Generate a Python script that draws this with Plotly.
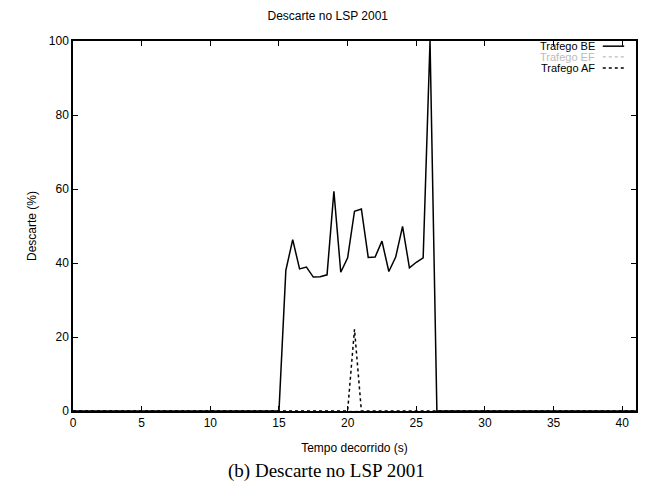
import plotly.graph_objects as go

# Data (time in s, discard in %)
tempo_be = [0, 15, 15.5, 16, 16.5, 17, 17.5, 18, 18.5, 19, 19.5, 20, 20.5, 21,
            21.5, 22, 22.5, 23, 23.5, 24, 24.5, 25, 25.5, 26, 26.5, 41]
descarte_be = [0, 0, 38, 46.3, 38.4, 38.9, 36.2, 36.3, 36.8, 59.4, 37.5, 41.4, 54.0, 54.6,
               41.5, 41.6, 45.9, 37.7, 41.6, 49.9, 38.7, 40.2, 41.4, 100, 0, 0]

tempo_ef = [0, 41]
descarte_ef = [0, 0]

tempo_af = [0, 20, 20.5, 21, 41]
descarte_af = [0, 0, 22.1, 0, 0]

x_ticks = [0, 5, 10, 15, 20, 25, 30, 35, 40]
y_ticks = [0, 20, 40, 60, 80, 100]

legend_labels = ["Trafego BE", "Trafego EF", "Trafego AF"]

font_sans = "Liberation Sans, Arial, sans-serif"

fig = go.Figure()
fig.add_trace(go.Scatter(x=tempo_ef, y=descarte_ef, mode="lines",
                         line=dict(color="#bbbbbb", width=1.2, dash="dot"),
                         name=legend_labels[1], showlegend=False))
fig.add_trace(go.Scatter(x=tempo_af, y=descarte_af, mode="lines",
                         line=dict(color="black", width=1.5, dash="dot"),
                         name=legend_labels[2], showlegend=False))
fig.add_trace(go.Scatter(x=tempo_be, y=descarte_be, mode="lines",
                         line=dict(color="black", width=1.5),
                         name=legend_labels[0], showlegend=False))

axis_common = dict(showgrid=False, zeroline=False, showline=True, mirror="ticks",
                   linecolor="black", linewidth=1.5, ticks="inside", ticklen=5,
                   tickcolor="black", automargin=False,
                   tickfont=dict(family=font_sans, size=12, color="black"))

fig.update_xaxes(range=[0, 41], tickvals=x_ticks,
                 title=dict(text="Tempo decorrido (s)", font=dict(family=font_sans, size=12, color="black"),
                            standoff=14),
                 **axis_common)
fig.update_yaxes(range=[0, 100], tickvals=y_ticks,
                 title=dict(text="Descarte (%)", font=dict(family=font_sans, size=12, color="black"),
                            standoff=10),
                 **axis_common)

# gnuplot-style legend (text right-aligned, sample on the right)
leg_styles = [dict(color="black", width=1.5, dash="solid"),
              dict(color="#bbbbbb", width=1.2, dash="dot"),
              dict(color="black", width=1.5, dash="dot")]
leg_y = [0.986, 0.957, 0.927]
for lab, st, yy in zip(legend_labels, leg_styles, leg_y):
    fig.add_annotation(x=0.931, y=yy, xref="paper", yref="paper", text=lab, showarrow=False,
                       xanchor="right", yanchor="middle",
                       font=dict(family=font_sans, size=11,
                                 color="black" if st["color"] == "black" else "#bbbbbb"))
    fig.add_shape(type="line", xref="paper", yref="paper", x0=0.941, x1=0.979, y0=yy, y1=yy,
                  line=st)

# caption below the chart
fig.add_annotation(x=0.451, y=-0.162, xref="paper", yref="paper", text="(b) Descarte no LSP 2001",
                   showarrow=False, xanchor="center", yanchor="middle",
                   font=dict(family="Liberation Serif, Times New Roman, serif", size=19, color="black"))

fig.update_layout(
    width=646, height=476,
    margin=dict(l=65, r=18, t=33, b=73),
    paper_bgcolor="white", plot_bgcolor="white",
    title=dict(text="Descarte no LSP 2001", x=0.495, xref="container", y=0.983, yref="container",
               xanchor="center", yanchor="middle",
               font=dict(family=font_sans, size=12, color="black")),
    showlegend=False,
)

fig.write_html("out.html")
